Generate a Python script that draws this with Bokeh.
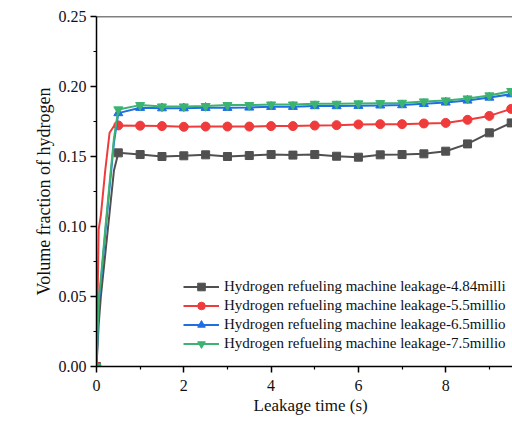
from bokeh.plotting import figure
from bokeh.models import Range1d, Legend, LegendItem, Span, Title, FixedTicker
from bokeh.embed import file_html
from bokeh.resources import INLINE

# time samples (s)
t = [0, 0.05, 0.1, 0.2, 0.3, 0.4, 0.5, 1.0, 1.5, 2.0, 2.5, 3.0, 3.5, 4.0, 4.5,
     5.0, 5.5, 6.0, 6.5, 7.0, 7.5, 8.0, 8.5, 9.0, 9.5, 10.0]

leak_484 = [0, 0.030, 0.050, 0.080, 0.110, 0.140, 0.1526, 0.1514, 0.1500, 0.1505,
            0.1512, 0.1500, 0.1507, 0.1514, 0.1510, 0.1514, 0.1502, 0.1495,
            0.1512, 0.1514, 0.1519, 0.1538, 0.1590, 0.1669, 0.1740, 0.1760]
leak_55 = [0, 0.098, 0.108, 0.140, 0.167, 0.1718, 0.1722, 0.1720, 0.1717,
           0.1712, 0.1714, 0.1714, 0.1714, 0.1717, 0.1717, 0.1721, 0.1724,
           0.1729, 0.1731, 0.1731, 0.1736, 0.1740, 0.1762, 0.1790, 0.1840, 0.1860]
leak_65 = [0, 0.045, 0.060, 0.095, 0.128, 0.160, 0.1810, 0.1848, 0.1845,
           0.1845, 0.1848, 0.1848, 0.1850, 0.1855, 0.1855, 0.1860, 0.1860,
           0.1862, 0.1865, 0.1867, 0.1876, 0.1886, 0.1900, 0.1921, 0.1945, 0.1955]
leak_75 = [0, 0.048, 0.063, 0.098, 0.131, 0.163, 0.1836, 0.1867, 0.1857,
           0.1857, 0.1860, 0.1867, 0.1867, 0.1871, 0.1871, 0.1876, 0.1876,
           0.1879, 0.1881, 0.1883, 0.1893, 0.1900, 0.1914, 0.1936, 0.1967, 0.1975]

# legend texts as far as the picture shows them (cut at its right edge)
labels = ["Hydrogen refueling machine leakage-4.84milli",
          "Hydrogen refueling machine leakage-5.5millio",
          "Hydrogen refueling machine leakage-6.5millio",
          "Hydrogen refueling machine leakage-7.5millio"]
colors = ["#505050", "#ef3b3b", "#1f6fe3", "#3cb371"]
markers = ["square", "circle", "triangle", "inverted_triangle"]
msizes = [8, 9, 9, 9]
series = [leak_484, leak_55, leak_65, leak_75]

SERIF = "Liberation Serif"

p = figure(width=512, height=422, output_backend="svg", toolbar_location=None,
           x_range=Range1d(0, 9.53), y_range=Range1d(0, 0.25),
           min_border_left=96, min_border_right=0, min_border_top=16,
           min_border_bottom=56)
p.outline_line_color = None
p.xgrid.visible = False
p.ygrid.visible = False
p.background_fill_color = "white"

mt_idx = [i for i, tv in enumerate(t) if abs(tv * 2 - round(tv * 2)) < 1e-9]

items = []
for s, c, m, ms, lab in zip(series, colors, markers, msizes, labels):
    r1 = p.line(t, s, line_color=c, line_width=2)
    r2 = p.scatter([t[i] for i in mt_idx], [s[i] for i in mt_idx], marker=m,
                   size=ms, fill_color=c, line_color=c)
    items.append(LegendItem(label=lab, renderers=[r1, r2]))

legend = Legend(items=items, location=(87, 13), padding=0, margin=0, spacing=0,
                glyph_width=36, glyph_height=19, label_height=19,
                label_standoff=5, label_text_font=SERIF,
                label_text_font_size="15px", label_text_color="#111111",
                label_text_line_height=1.0,
                background_fill_alpha=0, border_line_color=None)
p.add_layout(legend, "center")

# top frame line
p.add_layout(Span(location=0.25, dimension="width", line_color="black",
                  line_width=1.5))

for ax in (p.xaxis[0], p.yaxis[0]):
    ax.axis_line_color = "black"
    ax.axis_line_width = 1.5
    ax.major_tick_line_color = "black"
    ax.major_tick_line_width = 1.5
    ax.minor_tick_line_color = "black"
    ax.minor_tick_line_width = 1.2
    ax.major_tick_out = 6
    ax.major_tick_in = 0
    ax.minor_tick_out = 3
    ax.minor_tick_in = 0
    ax.major_label_text_font = SERIF
    ax.major_label_text_font_size = "16px"
    ax.major_label_text_color = "#111111"

p.xaxis.ticker = FixedTicker(ticks=[0, 2, 4, 6, 8, 10],
                             minor_ticks=[1, 3, 5, 7, 9])
p.xaxis.major_label_standoff = 7
p.yaxis.ticker = FixedTicker(ticks=[0, 0.05, 0.10, 0.15, 0.20, 0.25],
                             minor_ticks=[0.025, 0.075, 0.125, 0.175, 0.225])
p.yaxis.major_label_overrides = {0: "0.00", 0.05: "0.05", 0.1: "0.10",
                                 0.15: "0.15", 0.2: "0.20", 0.25: "0.25"}
p.yaxis.major_label_standoff = 4
p.yaxis.axis_label = "Volume fraction of hydrogen"
p.yaxis.axis_label_text_font = SERIF
p.yaxis.axis_label_text_font_size = "18px"
p.yaxis.axis_label_text_font_style = "normal"
p.yaxis.axis_label_text_color = "#111111"
p.yaxis.axis_label_standoff = 2

p.add_layout(Title(text="Leakage time (s)", align="left", offset=157,
                   text_font=SERIF, text_font_size="17px",
                   text_font_style="normal", text_color="#111111",
                   standoff=0, text_line_height=0.9), "below")

open("out.html", "w").write(file_html(p, INLINE))
